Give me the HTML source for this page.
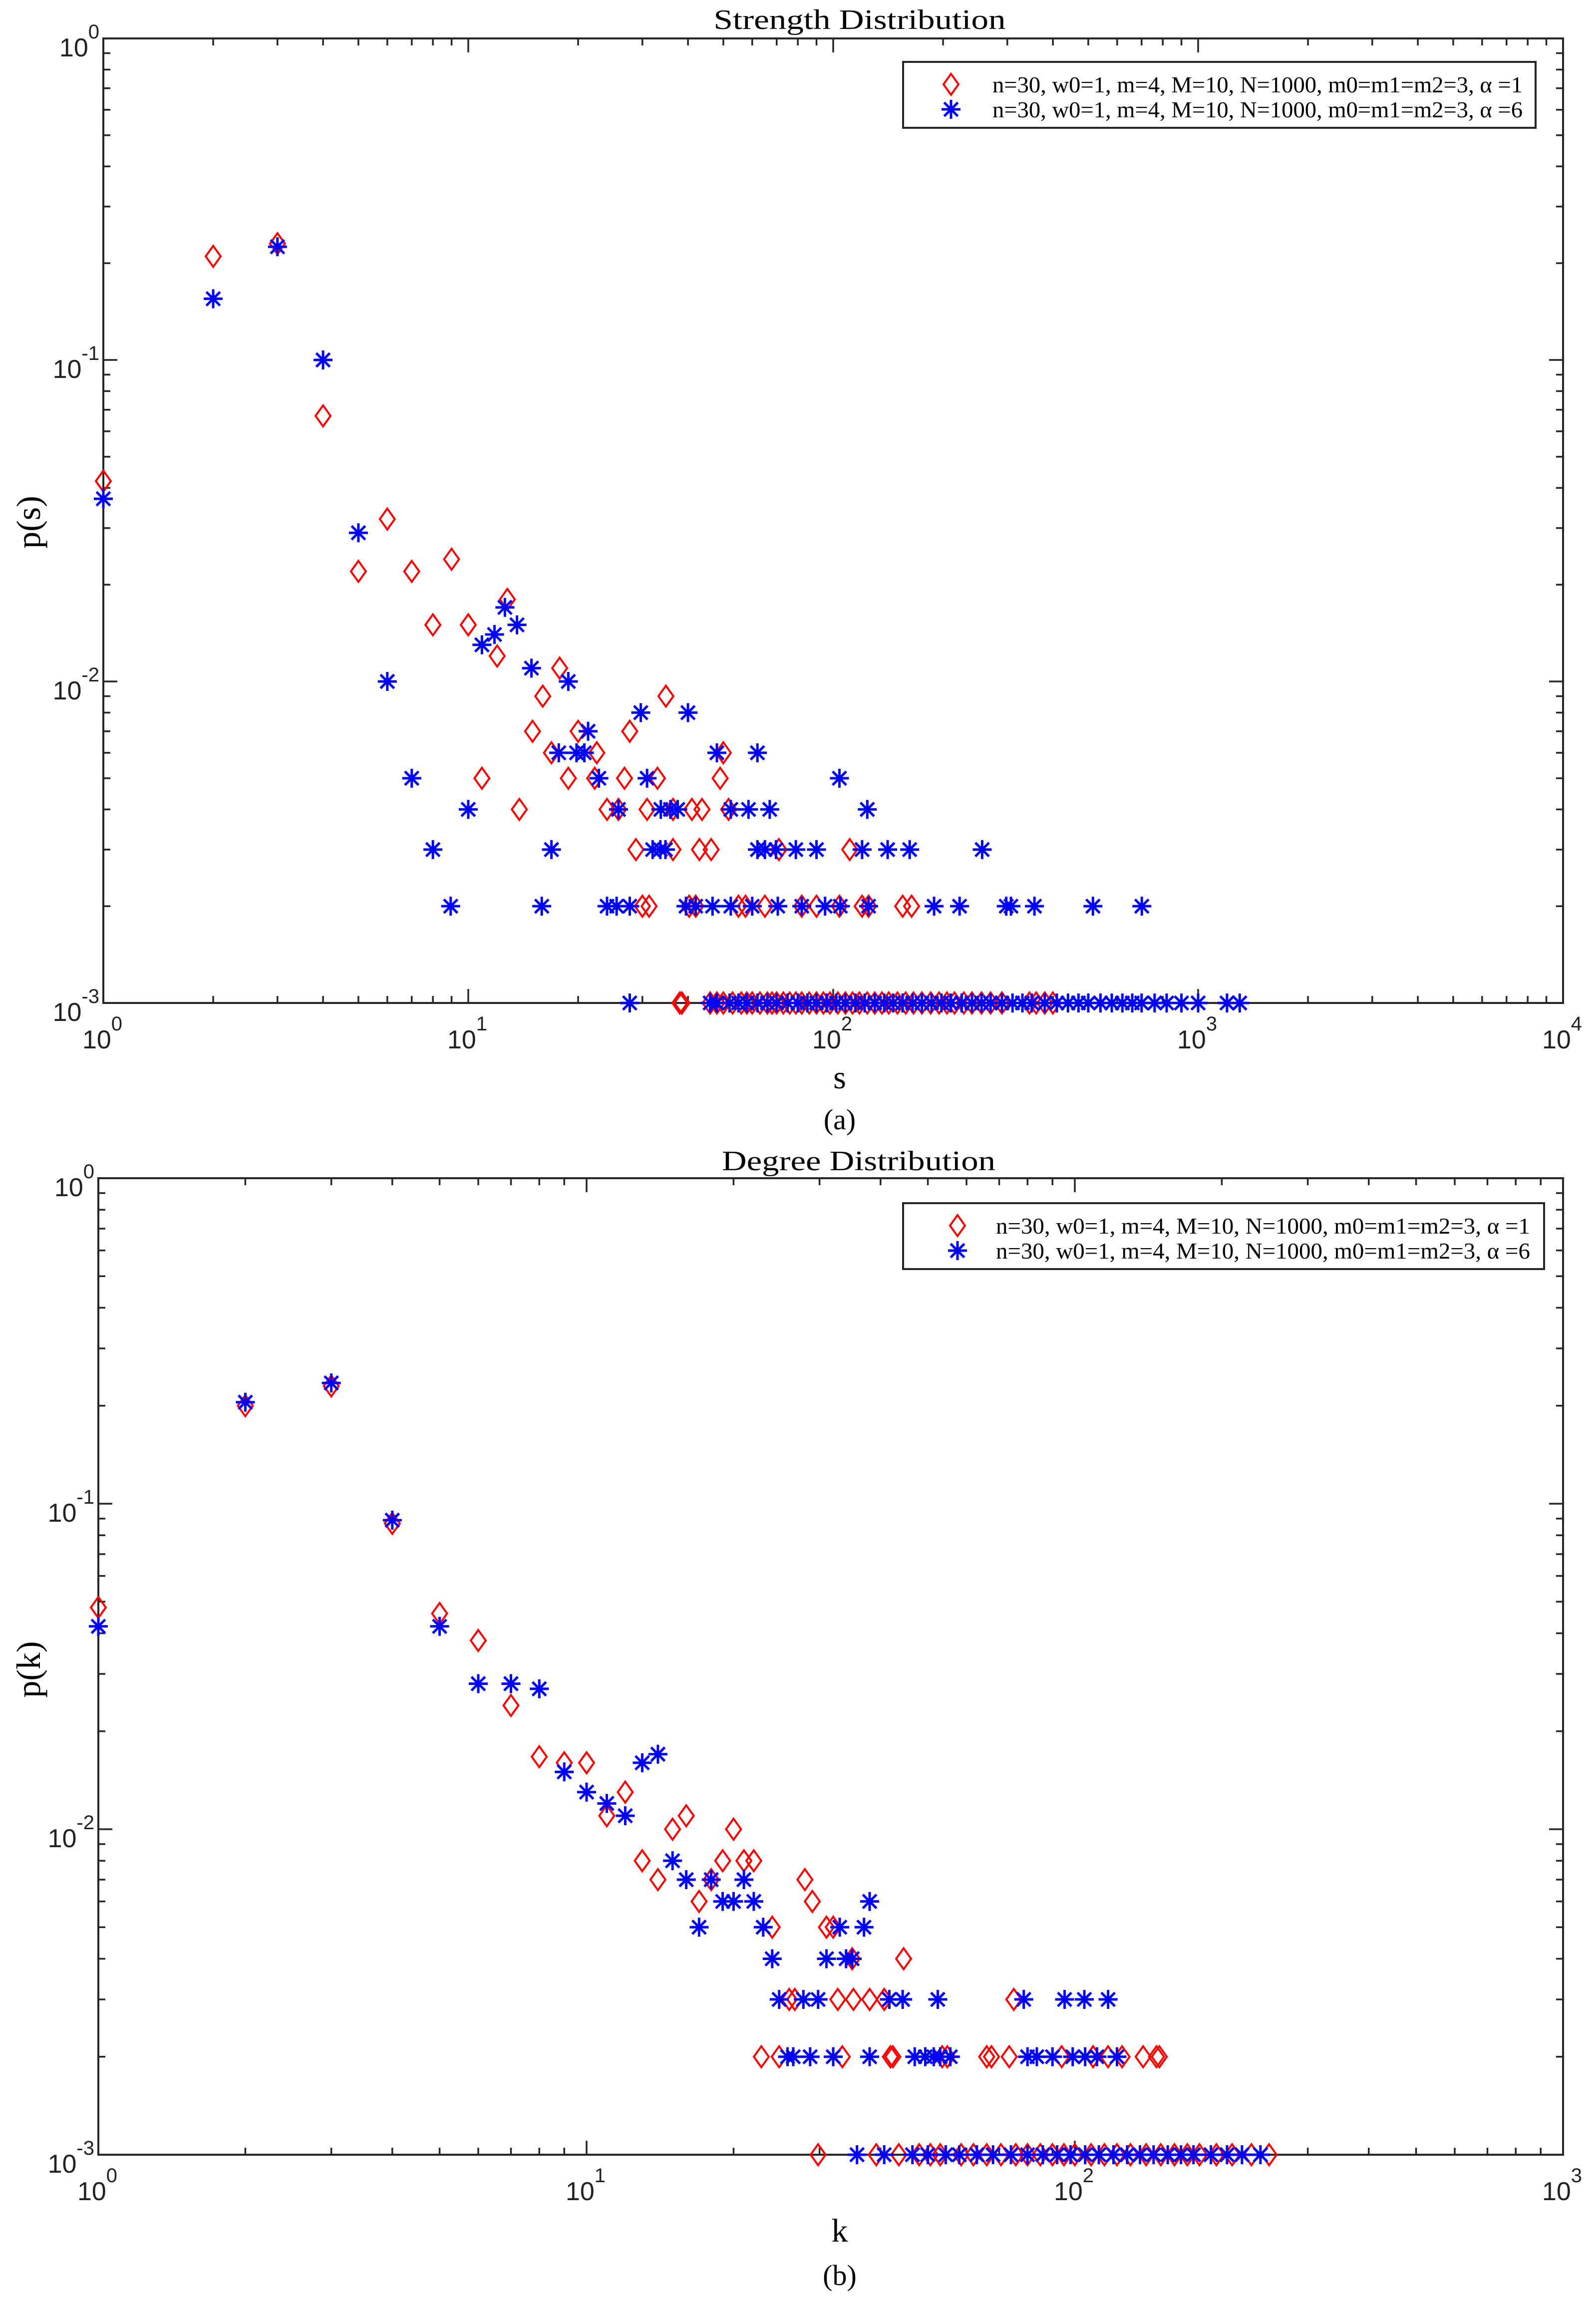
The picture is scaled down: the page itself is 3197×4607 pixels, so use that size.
<!DOCTYPE html>
<html><head><meta charset="utf-8"><title>Strength and Degree Distribution</title>
<style>
html,body{margin:0;padding:0;background:#fff;}
svg{display:block;}
.tick{font-family:"Liberation Sans",Arial,sans-serif;fill:#222;}
.serif{font-family:"Liberation Serif","DejaVu Serif",serif;fill:#000;}
</style></head>
<body>
<svg id="fig" xmlns="http://www.w3.org/2000/svg" width="3197" height="4607" viewBox="0 0 3197 4607">
<rect x="0" y="0" width="3197" height="4607" fill="#fff"/>
<g id="panelA"></g>
<g id="panelB"></g>
</svg>
<script>
// ---------- Data: Strength distribution (a) ----------
const strengthRedS = [1,2,3,4,5,6,7,8,9,10,10.9,12,12.8,13.8,15,16,16.9,17.8,18.8,20,22.2,22.5,24,25.8,26.8,27.7,28.8,30,30.9,31.3,33,34.8,36.4,36.4,40.3,41,42,43,43.7,46.3,49,50,51.7,55,57.5,65,71,82,90,104,111,120,125,155,164];
const strengthRedP = [0.042,0.21,0.23,0.067,0.022,0.032,0.022,0.015,0.024,0.015,0.005,0.012,0.018,0.004,0.007,0.009,0.006,0.011,0.005,0.007,0.005,0.006,0.004,0.004,0.005,0.007,0.003,0.002,0.004,0.002,0.005,0.009,0.004,0.003,0.002,0.004,0.002,0.003,0.004,0.003,0.005,0.006,0.004,0.002,0.002,0.002,0.003,0.002,0.002,0.002,0.003,0.002,0.002,0.002,0.002];
const strengthRedMinS = [38,38.5,46,48,50,53,56,58,60,63,66,68,70,73,76,79,82,86,90,94,98,103,108,113,118,124,130,136,142,150,158,166,175,185,195,205,215,228,240,255,270,290,345,360,380,400];
const strengthBlueS = [1,2,3,4,5,6,7,8,8.95,10,10.9,11.8,12.6,13.6,14.9,15.9,16.9,17.7,18.8,19.8,20.8,21.3,22.8,24,25.5,25.8,27.7,29.7,30.9,32,33.6,33.7,34.7,35.8,37.5,39.5,40,42,46.7,48,52.4,52.4,58.6,60,62,62,65,67,69.7,70.5,79,82,90,95,104,104.6,120,124,125,141,162,189,222,256,298,307,356,515,701];
const strengthBlueP = [0.037,0.155,0.225,0.1,0.029,0.01,0.005,0.003,0.002,0.004,0.013,0.014,0.017,0.015,0.011,0.002,0.003,0.006,0.01,0.006,0.006,0.007,0.005,0.002,0.002,0.004,0.002,0.008,0.005,0.003,0.003,0.004,0.003,0.004,0.004,0.002,0.008,0.002,0.002,0.006,0.004,0.002,0.004,0.002,0.006,0.003,0.003,0.004,0.003,0.002,0.003,0.002,0.003,0.002,0.005,0.002,0.003,0.004,0.002,0.003,0.003,0.002,0.002,0.003,0.002,0.002,0.002,0.002,0.002];
const strengthBlueMinS = [27.7,46,48,52,55,58,62,66,70,75,80,85,90,96,102,108,115,122,130,138,146,155,165,175,186,198,210,225,240,255,270,290,310,330,350,380,410,440,470,500,540,580,620,660,700,760,820,900,1000,1200,1300];

// ---------- Data: Degree distribution (b) ----------
const degreeRedK = [1,2,3,4,5,6,7,8,9,10,11,12,13,14,15,16,17,18,19,20,21,22,22.8,24,24.8,26,26.7,28,29,31,32,32.7,33.4,35,35.2,38,40.7,41.9,42.4,44.6,53.5,54.8,66,67.5,73.4,75,94,109,117,125,138,147,149];
const degreeRedP = [0.048,0.2,0.23,0.087,0.046,0.038,0.024,0.0167,0.016,0.016,0.011,0.013,0.008,0.007,0.01,0.011,0.006,0.007,0.008,0.01,0.008,0.008,0.002,0.005,0.002,0.003,0.003,0.007,0.006,0.005,0.005,0.003,0.002,0.004,0.003,0.003,0.003,0.002,0.002,0.004,0.002,0.002,0.002,0.002,0.002,0.003,0.002,0.002,0.002,0.002,0.002,0.002,0.002];
const degreeRedMinK = [29.8,39.2,43.6,48,50.6,53,58.5,62,66,70.6,75.7,80,85,90,95,100,108,115,122,130,140,150,160,170,180,195,210,230,250];
const degreeBlueK = [1,2,3,4,5,6,7,8,9,10,11,12,13,14,15,16,17,18,19,20,21,22,23,24,24.8,25.8,26.5,27.8,28.7,29.8,31,32,33,34,35,37,38,38,41.7,44.4,47,49.4,51.4,52.4,53,55.6,78.6,80,83.6,90,95.3,99,104.6,105,111,117,122];
const degreeBlueP = [0.042,0.205,0.235,0.089,0.042,0.028,0.028,0.027,0.015,0.013,0.012,0.011,0.016,0.017,0.008,0.007,0.005,0.007,0.006,0.006,0.007,0.006,0.005,0.004,0.003,0.002,0.002,0.003,0.002,0.003,0.004,0.002,0.005,0.004,0.004,0.005,0.006,0.002,0.003,0.003,0.002,0.002,0.002,0.003,0.002,0.002,0.003,0.002,0.002,0.002,0.003,0.002,0.003,0.002,0.002,0.003,0.002];
const degreeBlueMinK = [35.8,40.7,46.5,50,54.4,58,63,68,74,80,86,92,98,105,112,120,128,136,145,155,165,175,190,205,220,240];

const yTickLabels = ["0","-1","-2","-3"];
const xTickLabelsA = ["0","1","2","3","4"];
const xTickLabelsB = ["0","1","2","3"];
const legendLabels = ["n=30, w0=1, m=4, M=10, N=1000, m0=m1=m2=3, \u03b1 =1","n=30, w0=1, m=4, M=10, N=1000, m0=m1=m2=3, \u03b1 =6"];

const NS = "http://www.w3.org/2000/svg";
function mk(parent, tag, attrs) {
  const e = document.createElementNS(NS, tag);
  for (const k in attrs) e.setAttribute(k, attrs[k]);
  parent.appendChild(e);
  return e;
}

function drawPanel(g, cfg) {
  const L = cfg.left, R = cfg.right, T = cfg.top, B = cfg.bottom;
  const xScale = v => L + (Math.log10(v) - cfg.xmin) / (cfg.xmax - cfg.xmin) * (R - L);
  const yScale = v => T + (cfg.ymax - Math.log10(v)) / (cfg.ymax - cfg.ymin) * (B - T);

  const box = mk(g, "rect", {x: L, y: T, width: R - L, height: B - T, fill: "none", stroke: "#262626", "stroke-width": 4});
  
  

  const tg = mk(g, "g", {stroke: "#262626", "stroke-width": 3.5});
  
  
  for (let d = cfg.xmin; d < cfg.xmax; d++) {
    for (let m = 1; m < 10; m++) {
      const v = m * Math.pow(10, d);
      if (m === 1 && d === cfg.xmin) continue;
      const x = xScale(v);
      const len = m === 1 ? 28 : 14;
      mk(tg, "line", {x1: x, y1: B, x2: x, y2: B - len});
      mk(tg, "line", {x1: x, y1: T, x2: x, y2: T + len});
    }
  }
  for (let d = cfg.ymin; d < cfg.ymax; d++) {
    for (let m = 1; m < 10; m++) {
      const v = m * Math.pow(10, d);
      if (m === 1 && d === cfg.ymin) continue;
      const y = yScale(v);
      const len = m === 1 ? 28 : 14;
      mk(tg, "line", {x1: L, y1: y, x2: L + len, y2: y});
      mk(tg, "line", {x1: R, y1: y, x2: R - len, y2: y});
    }
  }

  yTickLabels.forEach((lab, i) => {
    const y = yScale(Math.pow(10, -i));
    const t = mk(g, "text", {x: L - 8, y: y + 36, "text-anchor": "end", "font-size": 52, class: "tick"});
    
    
    const s1 = mk(t, "tspan", {}); s1.textContent = "10";
    const s2 = mk(t, "tspan", {dy: -36, "font-size": 40}); s2.textContent = lab;
  });
  cfg.xLabels.forEach((lab, i) => {
    const x = xScale(Math.pow(10, cfg.xmin + i));
    const t = mk(g, "text", {x: x - 2, y: B + 91, "text-anchor": "middle", "font-size": 52, class: "tick"});
    
    
    const s1 = mk(t, "tspan", {}); s1.textContent = "10";
    const s2 = mk(t, "tspan", {dy: -36, "font-size": 40}); s2.textContent = lab;
  });

  const title = mk(g, "text", {x: cfg.titleX, y: cfg.titleY, "text-anchor": "middle", "font-size": 56, class: "serif", textLength: cfg.titleLen, lengthAdjust: "spacingAndGlyphs"});
  title.textContent = cfg.title;
  
  

  const yl = mk(g, "text", {x: 0, y: 0, "text-anchor": "middle", "font-size": 68, class: "serif", transform: `translate(${cfg.yLabelX},${cfg.yLabelY}) rotate(-90)`});
  yl.textContent = cfg.yLabel;
  
  
  const xl = mk(g, "text", {x: cfg.xLabelX, y: cfg.xLabelY, "text-anchor": "middle", "font-size": 66, class: "serif"});
  xl.textContent = cfg.xLabel;
  
  
  const cap = mk(g, "text", {x: cfg.xLabelX, y: cfg.capY, "text-anchor": "middle", "font-size": 58, class: "serif"});
  cap.textContent = cfg.caption;
  
  

  function diamond(parent, x, y) {
    return mk(parent, "polygon", {points: `${x},${y-21} ${x+15},${y} ${x},${y+21} ${x-15},${y}`, fill: "none", stroke: "#ff0000", "stroke-width": 4});
  }
  function star(parent, x, y) {
    const r = 19, sg = mk(parent, "g", {stroke: "#0000ff", "stroke-width": 5});
    mk(sg, "line", {x1: x - r, y1: y, x2: x + r, y2: y});
    mk(sg, "line", {x1: x, y1: y - r, x2: x, y2: y + r});
    const d = r * 0.72;
    mk(sg, "line", {x1: x - d, y1: y - d, x2: x + d, y2: y + d});
    mk(sg, "line", {x1: x - d, y1: y + d, x2: x + d, y2: y - d});
    return sg;
  }
  const redG = mk(g, "g", {});
  
  
  cfg.redX.forEach((v, i) => {
    const m = diamond(redG, xScale(v), yScale(cfg.redP[i]));
    
    
  });
  cfg.redMin.forEach(v => {
    const m = diamond(redG, xScale(v), yScale(0.001));
    
    
  });
  const blueG = mk(g, "g", {});
  
  
  cfg.blueX.forEach((v, i) => {
    const m = star(blueG, xScale(v), yScale(cfg.blueP[i]));
    
    
  });
  cfg.blueMin.forEach(v => {
    const m = star(blueG, xScale(v), yScale(0.001));
    
    
  });

  const lg = mk(g, "g", {});
  
  
  mk(lg, "rect", {x: cfg.legX, y: cfg.legY, width: cfg.legW, height: cfg.legH, fill: "#fff", stroke: "#262626", "stroke-width": 4});
  const row1 = cfg.legY + cfg.legH * 0.34, row2 = cfg.legY + cfg.legH * 0.72;
  diamond(lg, cfg.legMarkX, row1);
  star(lg, cfg.legMarkX, row2);
  [row1, row2].forEach((ry, i) => {
    const t = mk(lg, "text", {x: cfg.legTextX, y: ry + 16, "font-size": 46, class: "serif", textLength: cfg.legTextLen, lengthAdjust: "spacingAndGlyphs"});
    t.textContent = legendLabels[i];
    
    
  });
}

drawPanel(document.getElementById("panelA"), {
  left: 207, right: 3131, top: 77, bottom: 2009,
  xmin: 0, xmax: 4, ymin: -3, ymax: 0, xLabels: xTickLabelsA,
  title: "Strength Distribution", titleX: 1722, titleY: 58, titleLen: 585,
  yLabel: "p(s)", yLabelX: 80, yLabelY: 1046,
  xLabel: "s", xLabelX: 1682, xLabelY: 2180, caption: "(a)", capY: 2262,
  redX: strengthRedS, redP: strengthRedP, redMin: strengthRedMinS,
  blueX: strengthBlueS, blueP: strengthBlueP, blueMin: strengthBlueMinS,
  legX: 1809, legY: 124, legW: 1267, legH: 132, legMarkX: 1905, legTextX: 1988, legTextLen: 1062
});
drawPanel(document.getElementById("panelB"), {
  left: 197, right: 3131, top: 2360, bottom: 4316,
  xmin: 0, xmax: 3, ymin: -3, ymax: 0, xLabels: xTickLabelsB,
  title: "Degree Distribution", titleX: 1720, titleY: 2344, titleLen: 548,
  yLabel: "p(k)", yLabelX: 80, yLabelY: 3344,
  xLabel: "k", xLabelX: 1682, xLabelY: 4490, caption: "(b)", capY: 4577,
  redX: degreeRedK, redP: degreeRedP, redMin: degreeRedMinK,
  blueX: degreeBlueK, blueP: degreeBlueP, blueMin: degreeBlueMinK,
  legX: 1809, legY: 2410, legW: 1284, legH: 132, legMarkX: 1918, legTextX: 1995, legTextLen: 1070
});
</script>
</body></html>
